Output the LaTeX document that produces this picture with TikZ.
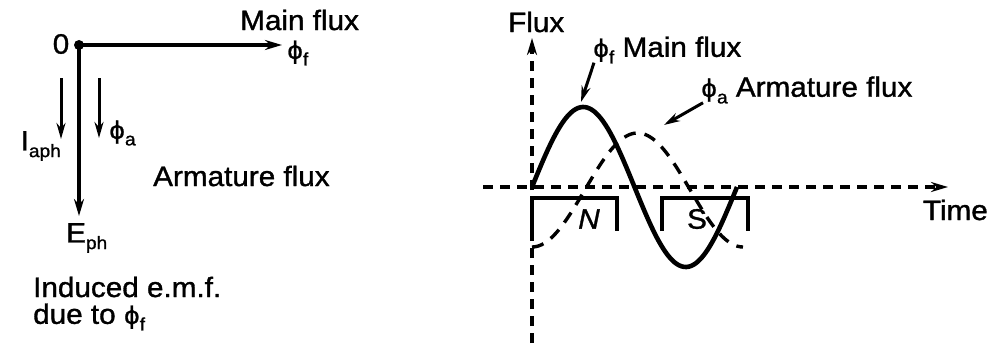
\documentclass[tikz,border=0pt]{standalone}
\usepackage{fontspec}
\setmainfont{Liberation Sans}[FakeStretch=1.06,FakeBold=1.2]
\newfontfamily\phifont{DejaVu Sans}[FakeBold=1]
\usetikzlibrary{arrows.meta}
\newcommand{\lowsub}[1]{\raisebox{-0.45ex}{\fontsize{18}{18}\selectfont #1}}
\newcommand{\phisym}{{\phifont\fontsize{24}{26}\selectfont ϕ}}
\begin{document}
\begin{tikzpicture}[x=1pt,y=-1pt,
  lbl/.style={inner sep=0pt,font=\fontsize{28}{30}\selectfont},
  arr/.style={line width=3.2pt,-{Stealth[length=17pt,width=10pt]}},
  smallarr/.style={line width=3pt,-{Stealth[length=16pt,width=9pt]}},
  dashaxis/.style={line width=3.2pt,dash pattern=on 10pt off 7pt,-{Stealth[length=17pt,width=10pt]}},
  curve/.style={line width=4.6pt},
  dcurve/.style={line width=3.4pt,dash pattern=on 12pt off 9pt},
  pole/.style={line width=4pt}]
\useasboundingbox (0,0) rectangle (990,345);
% ---------------- left phasor diagram ----------------
\coordinate (O) at (79,45);
\fill (O) circle (5pt);
\node[lbl] (zero) at (61,44) {0};
\node[lbl,anchor=west] (mainL) at (240,20) {Main flux};
\node[lbl,anchor=west] (phif) at (287,53) {\phisym\lowsub{f}};
\draw[arr] (O) -- ([xshift=-5pt]phif.west |- O);
\node[lbl,anchor=west] (Eph) at (66,238) {E\lowsub{ph}};
\draw[arr] (O) -- (O |- 0,216);
\coordinate (ia1) at (61,78);
\coordinate (ia2) at (61,139);
\draw[smallarr] (ia1) -- (ia2);
\node[lbl,anchor=east] (Iaph) at (61,146) {I\lowsub{aph}};
\coordinate (pa1) at (99,78);
\coordinate (pa2) at (99,138);
\draw[smallarr] (pa1) -- (pa2);
\node[lbl,anchor=west] (phia) at (109,133) {\phisym\lowsub{a}};
\node[lbl,anchor=west] (armL) at (153,176) {Armature flux};
\node[lbl,anchor=west] (ind) at (33,287) {Induced e.m.f.};
\node[lbl,anchor=west] (due) at (33,317) {due to \phisym\lowsub{f}};
% ---------------- right waveform diagram ----------------
\coordinate (vb) at (532,343);
\coordinate (vt) at (532,38);
\coordinate (hl) at (483,187);
\coordinate (hr) at (948,187);
\draw[dashaxis] (vb) -- (vt);
\draw[dashaxis] (hl) -- (hr);
\node[lbl,anchor=west] (flux) at (508,22) {Flux};
\node[lbl,anchor=east] (time) at (988,210) {Time};
% poles
\draw[pole] (532,231) -- (532,198) -- (617,198) -- (617,231);
\draw[pole] (662,231) -- (662,198) -- (748,198) -- (748,231);
\node[lbl] (N) at (589,219) {\itshape N};
\node[lbl] (S) at (697,219) {S};
% main flux (solid sine)
\draw[curve] plot[domain=0:205,samples=90] ({532+\x},{187-80*sin(\x/205*360)});
% armature flux (dashed, lagging by 90 degrees)
\draw[dcurve] plot[domain=0:211,samples=90] ({532+\x},{190+57*cos(\x/211*360)});
\coordinate (peakf) at (581,102);
\coordinate (peaka) at (664,125);
\node[lbl,anchor=west] (mfl) at (593,50) {\phisym\lowsub{f} Main flux};
\node[lbl,anchor=west] (afl) at (701,90) {\phisym\lowsub{a} Armature flux};
\draw[smallarr] ([xshift=1pt,yshift=1pt]mfl.south west) -- (peakf);
\draw[smallarr] ([xshift=2pt,yshift=1pt]afl.south west) -- (peaka);
\end{tikzpicture}
\end{document}
